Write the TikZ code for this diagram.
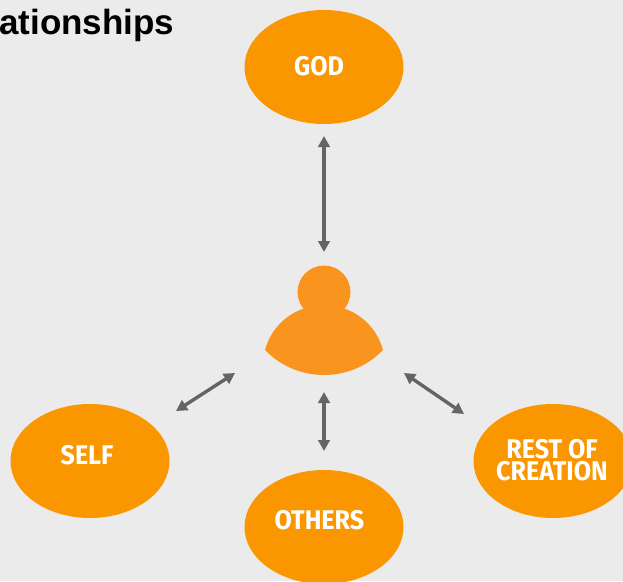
\documentclass[tikz,border=0pt]{standalone}
\usepackage{fontspec}
\setmainfont{Fira Sans}
\newfontfamily\titlefont{Liberation Sans}
\usetikzlibrary{arrows.meta,shapes.geometric}
\definecolor{bgc}{HTML}{EBEBEB}
\definecolor{orA}{HTML}{FA9600}
\definecolor{orB}{HTML}{F9951E}
\definecolor{arr}{HTML}{636466}
\tikzset{
  blob/.style={ellipse,fill=orA,minimum width=159pt,minimum height=114pt,inner sep=0pt,text=white,
    font=\fontsize{27}{21}\selectfont\addfontfeatures{FakeStretch=0.93}\bfseries,align=center},
  link/.style={draw=arr,line width=3.4pt,{Triangle[width=11.5pt,length=11pt]}-{Triangle[width=11.5pt,length=11pt]}}
}
\begin{document}
\begin{tikzpicture}[x=1pt,y=-1pt]
\useasboundingbox (0,0) rectangle (623,581);
\clip (0,0) rectangle (623,581);
\fill[bgc] (0,0) rectangle (623,581);
\node[anchor=base west,inner sep=0pt,font=\titlefont\bfseries\fontsize{35}{35}\selectfont] (title) at (-1,34) {ationships};
\node[blob] (god) at (324,67) {\raisebox{2pt}{\hspace{-10pt}GOD}};
\node[blob] (self) at (90,461) {\raisebox{13pt}{\hspace{-6pt}SELF}};
\node[blob] (others) at (324,527) {\raisebox{14pt}{\hspace{-9pt}OTHERS}};
\node[blob] (rest) at (553,461) {\raisebox{2pt}{\hspace{-2pt}REST OF}\\\raisebox{3pt}{\hspace{-2pt}CREATION}};
\fill[orB] (265,350) .. controls (272.2,323.3) and (296.4,305) .. (324,305) .. controls (351.6,305) and (375.8,323.3) .. (383,350) .. controls (367.6,366) and (346.2,375) .. (324,375) .. controls (301.8,375) and (280.4,366) .. (265,350) -- cycle;
\fill[orB] (324,292) circle (26.5);
\coordinate (gA) at (324,136); \coordinate (gB) at (324,252);
\coordinate (oA) at (324,392); \coordinate (oB) at (324,451);
\coordinate (sA) at (235,373); \coordinate (sB) at (176,411);
\coordinate (rA) at (404,373); \coordinate (rB) at (464,414);
\draw[link] (gA) -- (gB);
\draw[link] (oA) -- (oB);
\draw[link] (sA) -- (sB);
\draw[link] (rA) -- (rB);
\end{tikzpicture}
\end{document}
